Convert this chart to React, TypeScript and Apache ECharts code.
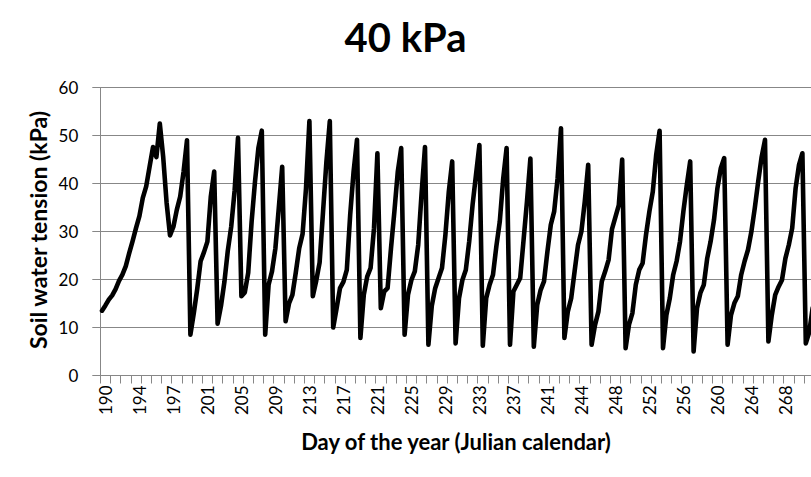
import React, { useEffect, useRef } from "react";
import * as echarts from "echarts";

// Day-of-year labels shown under every 10th reading
const dayLabels = [
  "190", "194", "197", "201", "205", "209", "213", "217", "221", "225", "229",
  "233", "237", "241", "244", "248", "252", "256", "260", "264", "268",
];

// Soil water tension readings (kPa), one per time step
const tension = [
  13.5, 14.6, 15.8, 16.7, 18, 19.7, 21, 22.8, 25.5, 28,
  30.7, 33.2, 37, 39.4, 43.5, 47.6, 45.5, 52.5, 45.5, 36,
  29.2, 31, 34.5, 37.3, 42.5, 49, 8.5, 13, 18, 23.8,
  25.7, 27.9, 37.3, 42.5, 10.8, 14.5, 19.5, 26, 31, 38.5,
  49.5, 16.5, 17.3, 21.4, 32, 40.4, 47.4, 51, 8.5, 18.9,
  21.7, 26.5, 34.9, 43.5, 11.3, 15, 16.8, 21.5, 26.5, 29.5,
  39, 53, 16.5, 19.7, 23.5, 34, 44.5, 53, 10, 14,
  18.2, 19.5, 22, 33.5, 42.5, 49.1, 7.8, 16.8, 20.6, 22.4,
  30.7, 46.3, 14, 17.5, 18.2, 26.5, 34.2, 42.5, 47.4, 8.5,
  16.8, 19.9, 21.7, 27.2, 38, 47.6, 6.4, 14.5, 18.2, 20.3,
  22.4, 29.3, 38.3, 44.6, 6.7, 16.1, 19.9, 22, 27.9, 35.6,
  41.8, 48, 6.2, 16.1, 18.9, 21, 27, 32.1, 41, 47.4,
  6.4, 17.5, 18.9, 20.3, 28.3, 36.3, 45.2, 6, 14.7, 17.8,
  19.6, 25.8, 31.4, 34.2, 41.1, 51.5, 7.8, 13.3, 16.1, 21.7,
  27.2, 30, 36.3, 43.9, 6.4, 10.5, 13.3, 19.6, 21.7, 24.1,
  30.5, 33, 35.5, 45, 5.7, 10.6, 13, 18.9, 22, 23.4,
  29.3, 34.2, 38.3, 46, 51, 5.7, 12.6, 16.1, 21, 23.8,
  27.9, 34.2, 39.7, 44.6, 5, 14, 17.2, 18.9, 24.4, 27.9,
  32.4, 39, 43.2, 45.3, 6.4, 12.6, 15.1, 16.5, 21, 23.8,
  26.2, 30, 34.9, 40.4, 45.5, 49.1, 7.1, 12.6, 16.8, 18.5,
  19.9, 24.4, 27.2, 30.7, 39, 43.9, 46.3, 6.7, 9, 14,
  16, 18,
];

const STEPS_PER_LABEL = 10;
const LABEL_OFFSET = 1;
const STEPS_PER_TICK = 3;

const yMin = 0;
const yMax = 60;
const yStep = 10;

const chartTitle = "40 kPa";
const xTitle = "Day of the year (Julian calendar)";
const yTitle = "Soil water tension (kPa)";

const FONT = "Lato, 'Open Sans', sans-serif";
const AXIS_GRAY = "#878787";

const labelFor = (idx: number) =>
  idx % STEPS_PER_LABEL === LABEL_OFFSET
    ? dayLabels[(idx - LABEL_OFFSET) / STEPS_PER_LABEL] ?? ""
    : "";

export default function App() {
  const ref = useRef<HTMLDivElement>(null);

  useEffect(() => {
    if (!ref.current) return;
    const chart = echarts.init(ref.current, undefined, { renderer: "svg" });
    const categories = tension.map((_, i) => String(i));
    chart.setOption({
      animation: false,
      backgroundColor: "#ffffff",
      textStyle: { fontFamily: FONT },
      title: {
        text: chartTitle,
        left: "center",
        top: 12,
        textStyle: { fontFamily: FONT, fontWeight: "bold", fontSize: 40, color: "#000" },
      },
      graphic: [
        {
          type: "text",
          x: 456,
          y: 441,
          style: {
            text: xTitle,
            font: `bold 22px ${FONT}`,
            fill: "#000",
            textAlign: "center",
            textVerticalAlign: "middle",
            align: "center",
            verticalAlign: "middle",
          },
        },
        {
          type: "text",
          x: 38,
          y: 230,
          rotation: Math.PI / 2,
          style: {
            text: yTitle,
            font: `bold 23px ${FONT}`,
            fill: "#000",
            textAlign: "center",
            textVerticalAlign: "middle",
            align: "center",
            verticalAlign: "middle",
          },
        },
      ],
      grid: {
        left: 100.3,
        top: 87.5,
        width: tension.length * 3.4,
        height: 288,
        containLabel: false,
        outerBoundsMode: "none",
      },
      xAxis: {
        type: "category",
        data: categories,
        boundaryGap: true,
        axisLine: { show: true, lineStyle: { color: AXIS_GRAY, width: 1 } },
        axisTick: {
          show: true,
          interval: STEPS_PER_TICK - 1,
          length: 8,
          lineStyle: { color: AXIS_GRAY, width: 1 },
        },
        axisLabel: {
          interval: (idx: number) => idx % STEPS_PER_LABEL === LABEL_OFFSET,
          rotate: 90,
          margin: 10,
          fontFamily: FONT,
          fontSize: 17,
          color: "#000",
          hideOverlap: false,
          formatter: (_v: string, idx: number) => labelFor(idx),
        },
        splitLine: { show: false },
      },
      yAxis: {
        type: "value",
        min: yMin,
        max: yMax,
        interval: yStep,
        axisLine: { show: true, lineStyle: { color: AXIS_GRAY, width: 1 } },
        axisTick: { show: true, length: 8, lineStyle: { color: AXIS_GRAY, width: 1 } },
        axisLabel: { fontFamily: FONT, fontSize: 17, color: "#000", margin: 22 },
        splitLine: { show: true, lineStyle: { color: AXIS_GRAY, width: 1 } },
      },
      series: [
        {
          type: "line",
          data: tension,
          showSymbol: false,
          symbol: "none",
          lineStyle: { color: "#000", width: 4.6, cap: "round", join: "round" },
          clip: true,
        },
      ],
    });
    return () => chart.dispose();
  }, []);

  return (
    <div style={{ position: "fixed", left: 0, top: 0, width: 811, height: 477, overflow: "hidden", background: "#fff" }}>
      <div ref={ref} style={{ width: 811, height: 477 }} />
    </div>
  );
}
